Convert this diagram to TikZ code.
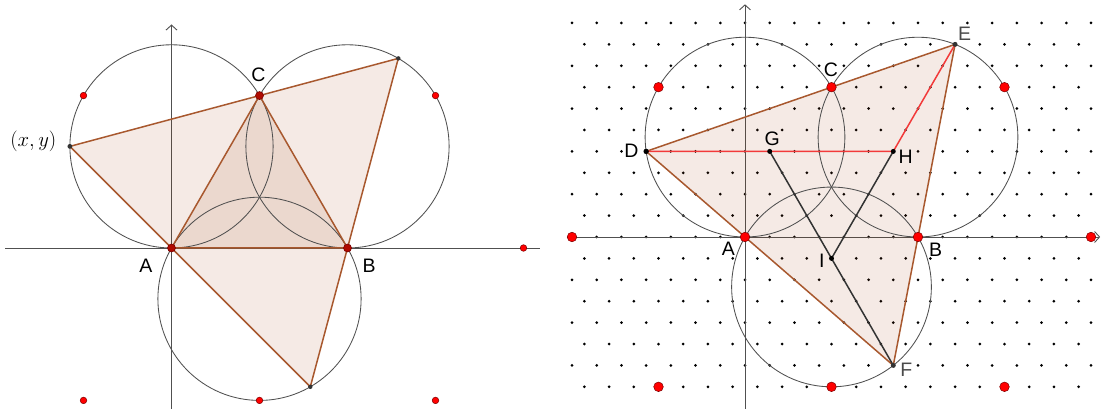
\documentclass[tikz,border=0pt]{standalone}
\usepackage{fontspec}
\newfontfamily\labfont{Liberation Sans}
\usetikzlibrary{arrows.meta}
\definecolor{brownline}{HTML}{A8582E}
\definecolor{polyfill}{HTML}{993300}
\definecolor{circc}{HTML}{505050}
\definecolor{axisc}{HTML}{505050}
\definecolor{ptred}{HTML}{FF0000}
\definecolor{ptdark}{HTML}{7A0000}
\definecolor{ptbrown}{HTML}{B00A00}
\definecolor{redline}{HTML}{F23A3A}
\definecolor{segc}{HTML}{333333}
\definecolor{labgray}{HTML}{4A4A4A}
\begin{document}
\begin{tikzpicture}[x=1pt,y=1pt,
  axis/.style={draw=axisc, line width=0.9pt},
  axisarrow/.style={axis, -{Straight Barb[length=5pt,width=11pt]}},
  circ/.style={draw=circc, line width=0.85pt},
  poly/.style={fill=polyfill, fill opacity=0.1},
  edgeline/.style={draw=brownline, line width=1.5pt, line join=round},
  redseg/.style={draw=redline, line width=1.5pt},
  blackseg/.style={draw=segc, line width=1.5pt},
  lab/.style={font=\labfont\fontsize{19.5}{19.5}\selectfont, inner sep=0pt},
  graylab/.style={lab, text=labgray},
  latdot/.style={fill=black},
  redpt/.style={fill=ptred, draw=ptdark, line width=0.5pt},
  basept/.style={fill=ptbrown, draw=ptdark, line width=0.6pt},
  blackpt/.style={fill=black},
  graypt/.style={fill=segc}
]
\useasboundingbox (0,0) rectangle (1103,409);

% ================= LEFT PANEL =================
\begin{scope}[shift={(171.5,161)}, x=176pt, y=176pt]
  \coordinate (LA) at (0,0);
  \coordinate (LB) at (1,0);
  \coordinate (LC) at (0.5,0.866025);
  \coordinate (LP) at (-0.57735,0.57735);
  \coordinate (LE) at (1.288675,1.077350);
  \coordinate (LF) at (0.788675,-0.788675);
  \coordinate (LO1) at (0,0.57735);
  \coordinate (LO2) at (1,0.57735);
  \coordinate (LO3) at (0.5,-0.288675);
  \coordinate (LXl) at (-0.946,0);
  \coordinate (LXr) at (2.094,0);
  \coordinate (LYb) at (0,-0.915);
  \coordinate (LYt) at (0,1.27);
  % axes
  \draw[axis] (LXl) -- (LXr);
  \draw[axisarrow] (LYb) -- (LYt);
  % fills
  \fill[poly] (LP) -- (LE) -- (LF) -- cycle;
  \fill[poly] (LA) -- (LB) -- (LC) -- cycle;
  % circles
  \draw[circ] (LO1) circle[radius=0.57735];
  \draw[circ] (LO2) circle[radius=0.57735];
  \draw[circ] (LO3) circle[radius=0.57735];
  % edges
  \draw[edgeline] (LP) -- (LC) -- (LE);
  \draw[edgeline] (LE) -- (LB) -- (LF);
  \draw[edgeline] (LF) -- (LA) -- (LP);
  \draw[edgeline] (LA) -- (LB) -- (LC) -- cycle;
  % lattice red points
  \foreach \p/\q in {-0.5/0.866025, 1.5/0.866025, 2/0, -0.5/-0.866025, 0.5/-0.866025, 1.5/-0.866025}
    \filldraw[redpt] (\p,\q) circle[radius=3.3pt];
  % points
  \fill[graypt] (LP) circle[radius=2.4pt];
  \fill[graypt] (LE) circle[radius=2.2pt];
  \fill[graypt] (LF) circle[radius=2.2pt];
  \filldraw[basept] (LA) circle[radius=4pt];
  \filldraw[basept] (LB) circle[radius=4pt];
  \filldraw[basept] (LC) circle[radius=4pt];
\end{scope}
\node[lab] (labLC) at (258.3,334.3) {C};
\node[lab] (labLA) at (146,143.5) {A};
\node[lab] (labLB) at (369,143) {B};
\node[inner sep=0pt, font=\fontsize{20.5}{20.5}\selectfont] (labLP) at (33.3,267.3) {$(x,y)$};

% ================= RIGHT PANEL =================
\begin{scope}[shift={(745,172)}, x=173pt, y=173pt]
  % lattice dots
  \foreach \n in {-7,...,10}{
    \pgfmathtruncatemacro{\odd}{mod(\n+20,2)}
    \pgfmathtruncatemacro{\kmax}{14-\odd}
    \foreach \k in {-7,...,\kmax}{
      \pgfmathsetmacro{\xx}{(\k+0.5*\odd)/7}
      \pgfmathsetmacro{\yy}{\n*0.8660254/7}
      \fill[latdot] (\xx,\yy) circle[radius=1.5pt];
    }
  }
  \coordinate (RA) at (0,0);
  \coordinate (RB) at (1,0);
  \coordinate (RC) at (0.5,0.866025);
  \coordinate (RD) at (-0.571429,0.494872);
  \coordinate (RG) at (0.142857,0.494872);
  \coordinate (RH) at (0.857143,0.494872);
  \coordinate (RE) at (1.214286,1.113462);
  \coordinate (RI) at (0.5,-0.123718);
  \coordinate (RF) at (0.857143,-0.742307);
  \coordinate (RO1) at (0,0.57735);
  \coordinate (RO2) at (1,0.57735);
  \coordinate (RO3) at (0.5,-0.288675);
  \coordinate (RXl) at (-1.03,0);
  \coordinate (RXr) at (2.053,0);
  \coordinate (RYb) at (0,-0.995);
  \coordinate (RYt) at (0,1.345);
  % axes
  \draw[axisarrow] (RXl) -- (RXr);
  \draw[axisarrow] (RYb) -- (RYt);
  % fill
  \fill[poly] (RD) -- (RE) -- (RF) -- cycle;
  % circles
  \draw[circ] (RO1) circle[radius=0.57735];
  \draw[circ] (RO2) circle[radius=0.57735];
  \draw[circ] (RO3) circle[radius=0.57735];
  % edges
  \draw[edgeline] (RD) -- (RC) -- (RE);
  \draw[edgeline] (RE) -- (RB) -- (RF);
  \draw[edgeline] (RF) -- (RA) -- (RD);
  % red path
  \draw[redseg] (RD) -- (RG) -- (RH) -- (RE);
  % black path
  \draw[blackseg] (RG) -- (RI) -- (RF);
  \draw[blackseg] (RH) -- (RI);
  % red lattice points
  \foreach \p/\q in {-1/0, 2/0, -0.5/0.866025, 1.5/0.866025, -0.5/-0.866025, 0.5/-0.866025, 1.5/-0.866025}
    \filldraw[redpt] (\p,\q) circle[radius=4.8pt];
  \filldraw[redpt] (RA) circle[radius=4.8pt];
  \filldraw[redpt] (RB) circle[radius=4.8pt];
  \filldraw[redpt] (RC) circle[radius=4.8pt];
  % other points
  \fill[blackpt] (RD) circle[radius=2.7pt];
  \fill[blackpt] (RG) circle[radius=2.5pt];
  \fill[blackpt] (RH) circle[radius=2.5pt];
  \fill[blackpt] (RI) circle[radius=2.5pt];
  \fill[graypt] (RE) circle[radius=2.5pt];
  \fill[graypt] (RF) circle[radius=2.5pt];
\end{scope}
\node[lab] (labRC) at (831,339.7) {C};
\node[lab] (labRD) at (631.3,258.5) {D};
\node[lab] (labRG) at (772.3,270.7) {G};
\node[graylab] (labRE) at (964.7,375.7) {E};
\node[lab] (labRH) at (905.7,252.3) {H};
\node[lab] (labRI) at (821.7,148.3) {I};
\node[lab] (labRA) at (728.3,160.7) {A};
\node[lab] (labRB) at (935.7,159.7) {B};
\node[graylab] (labRF) at (906.3,39) {F};
\end{tikzpicture}
\end{document}
